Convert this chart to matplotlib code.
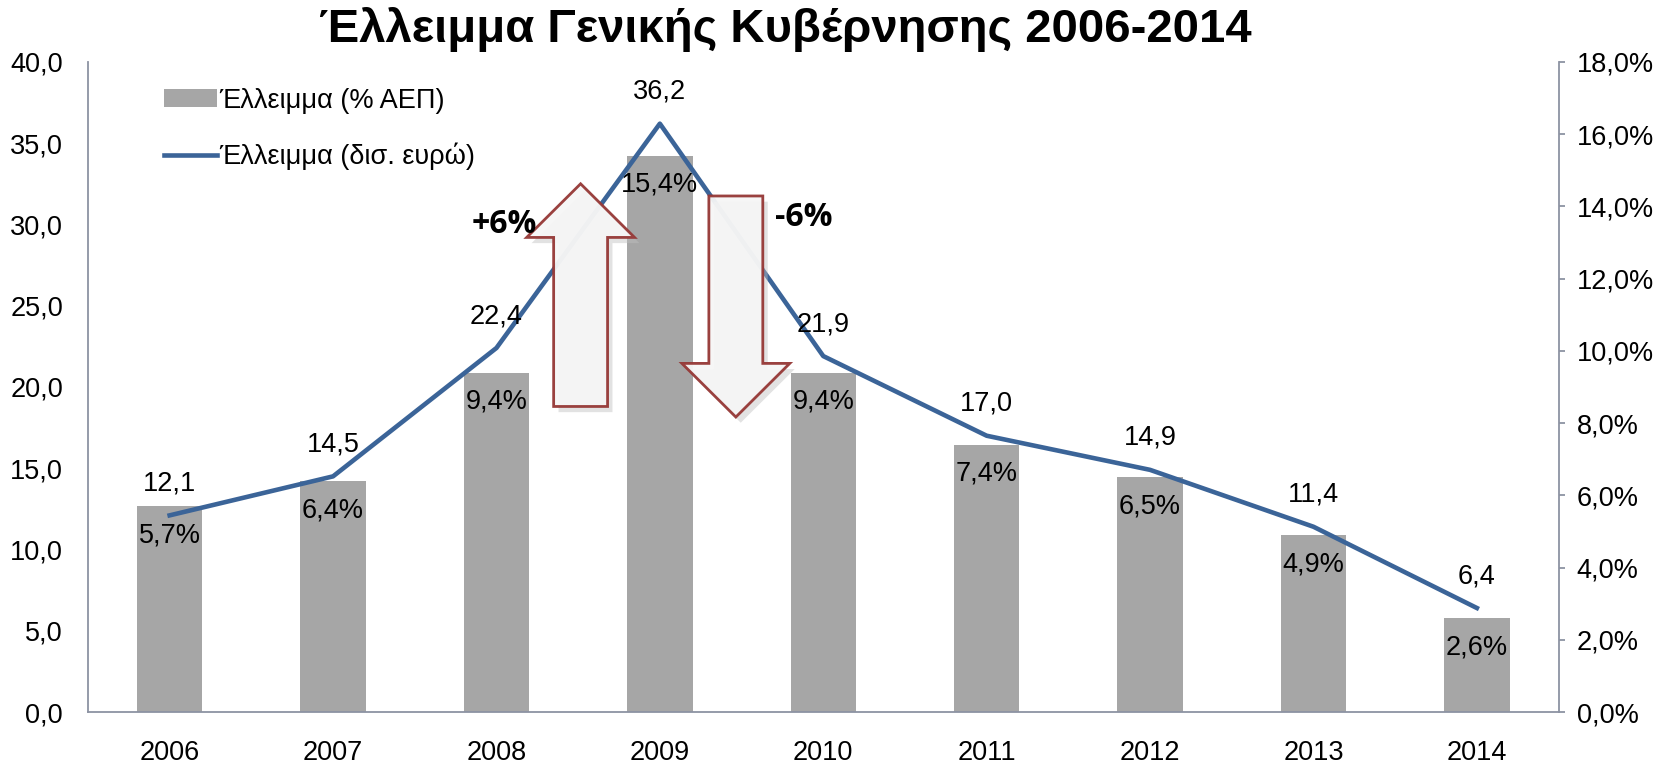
import numpy as np
import matplotlib
matplotlib.use('Agg')
import matplotlib.pyplot as plt
from matplotlib.patches import FancyArrow
from matplotlib.ticker import FuncFormatter

plt.rcParams['font.family'] = ['Liberation Sans', 'DejaVu Sans']

#------------------------data------------------------------
years = ['2006', '2007', '2008', '2009', '2010', '2011', '2012', '2013', '2014']
deficit_pct = [5.7, 6.4, 9.4, 15.4, 9.4, 7.4, 6.5, 4.9, 2.6]        # % of GDP (right axis)
deficit_bn = [12.1, 14.5, 22.4, 36.2, 21.9, 17.0, 14.9, 11.4, 6.4]   # bn euro (left axis)

bar_color = '#A6A6A6'
line_color = '#3B6498'
spine_color = '#8C93A3'
fs = 19.5

def gr(v, nd=1):
    return ('%.*f' % (nd, v)).replace('.', ',')

fig = plt.figure(figsize=(16.75, 7.64), dpi=100)
ax = fig.add_axes([0.0525, 0.068, 0.878, 0.851])
ax2 = ax.twinx()

x = np.arange(len(years))

# bars on the right (%) axis, line on the left axis
bars = ax2.bar(x, deficit_pct, width=0.4, color=bar_color, zorder=1, label='Έλλειμμα (% ΑΕΠ)')
ax2.set_ylim(0, 18)
ax2.set_yticks(np.arange(0, 18.1, 2))
ax2.yaxis.set_major_formatter(FuncFormatter(lambda v, p: gr(v) + '%'))

ax.set_zorder(ax2.get_zorder() + 1)
ax.patch.set_visible(False)
line, = ax.plot(x, deficit_bn, color=line_color, lw=3.3, zorder=3, label='Έλλειμμα (δισ. ευρώ)')
ax.set_ylim(0, 40)
ax.set_yticks(np.arange(0, 40.1, 5))
ax.yaxis.set_major_formatter(FuncFormatter(lambda v, p: gr(v)))
ax.set_xlim(-0.5, len(years) - 0.5)
ax.set_xticks(x)
ax.set_xticklabels(years)

for a in (ax, ax2):
    a.spines['top'].set_visible(False)
    for s in ('left', 'right', 'bottom'):
        a.spines[s].set_color(spine_color)
        a.spines[s].set_linewidth(1.3)
ax.spines['right'].set_visible(False)
ax2.spines['left'].set_visible(False)
ax2.spines['bottom'].set_visible(False)
ax.tick_params(axis='y', length=0, labelsize=fs, pad=18)
ax.tick_params(axis='x', length=0, labelsize=fs, pad=20)
ax2.tick_params(axis='y', length=4, color=spine_color, width=1.3, labelsize=fs, pad=9)

# data labels
for i in range(len(years)):
    ax2.annotate(gr(deficit_pct[i]) + '%', (x[i], deficit_pct[i]), xytext=(0, -21),
                 textcoords='offset points', ha='center', va='center', fontsize=fs, zorder=5)
    ax.annotate(gr(deficit_bn[i]), (x[i], deficit_bn[i]), xytext=(0, 23),
                textcoords='offset points', ha='center', va='center', fontsize=fs, zorder=5)

# arrows
for (ax0, y0, dy) in [(2.515, 18.8, 13.7), (3.465, 31.75, -13.6)]:
    sh = FancyArrow(ax0 + 0.03, y0 - 0.35, 0, dy, width=0.33, head_width=0.66, head_length=3.3,
                    length_includes_head=True, fc='#BFBFBF', ec='none', alpha=0.45, zorder=3.5)
    ax.add_patch(sh)
    ar = FancyArrow(ax0, y0, 0, dy, width=0.33, head_width=0.66, head_length=3.3,
                    length_includes_head=True, fc='#F6F6F6', ec='#953735', lw=2, alpha=0.95, zorder=4)
    ax.add_patch(ar)
ax.text(2.05, 30.0, '+6%', fontsize=23, fontweight='bold', family=['Open Sans', 'DejaVu Sans'],
        ha='center', va='center', zorder=5)
ax.text(3.88, 30.4, '-6%', fontsize=23, fontweight='bold', family=['Open Sans', 'DejaVu Sans'],
        ha='center', va='center', zorder=5)

leg = ax.legend([bars, line], [bars.get_label(), line.get_label()], loc='upper left',
                bbox_to_anchor=(0.035, 0.998), frameon=False, fontsize=fs, labelspacing=1.08,
                handlelength=1.95, handletextpad=0.1, handleheight=0.6)

fig.text(0.469, 0.962, 'Έλλειμμα Γενικής Κυβέρνησης 2006-2014', ha='center', va='center',
         fontsize=34, fontweight='bold')

plt.savefig('out.png', dpi=100)
